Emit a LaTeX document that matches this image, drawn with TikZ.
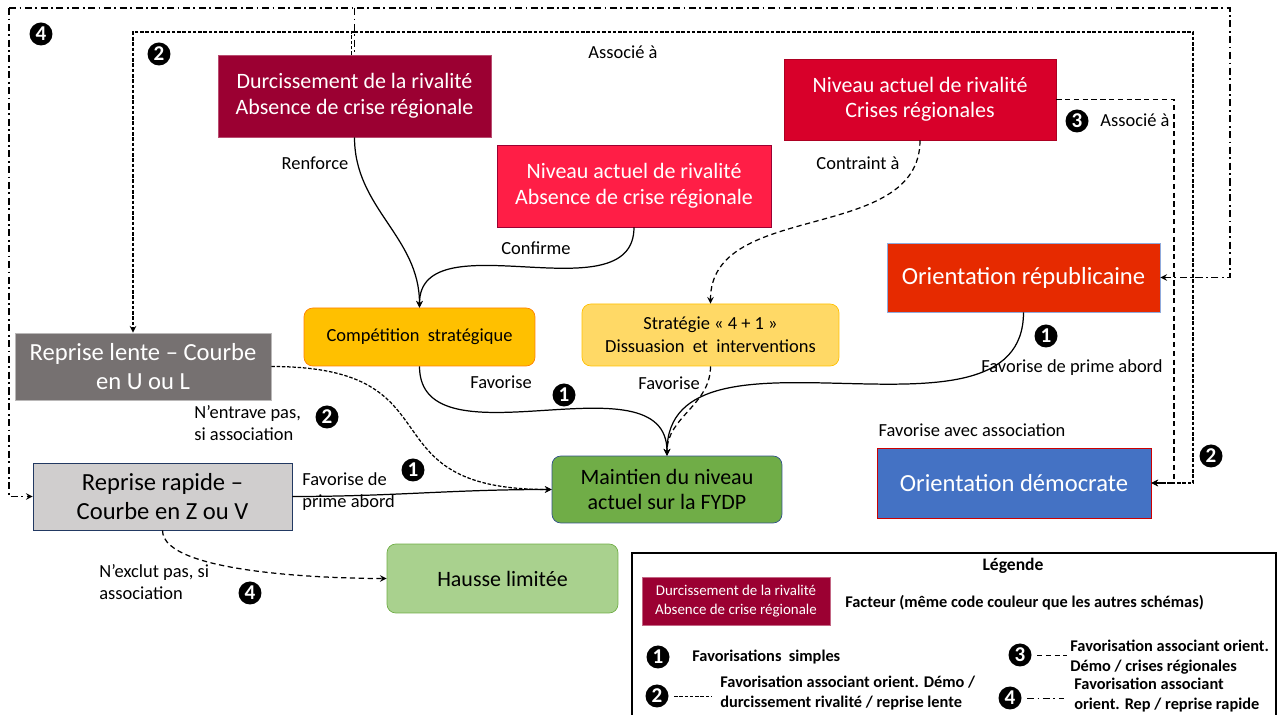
\documentclass[tikz,border=0pt]{standalone}
\usepackage{fontspec}
\setmainfont{Carlito}
\definecolor{durcred}{RGB}{155, 0, 50}
\definecolor{crisered}{RGB}{216, 0, 42}
\definecolor{absred}{RGB}{255, 30, 70}
\definecolor{repred}{RGB}{230, 42, 0}
\definecolor{demoblue}{RGB}{68, 114, 196}
\definecolor{compyellow}{RGB}{255, 192, 0}
\definecolor{stratyellow}{RGB}{255, 217, 102}
\definecolor{lentegray}{RGB}{118, 113, 113}
\definecolor{rapidegray}{RGB}{208, 206, 206}
\definecolor{maintgreen}{RGB}{112, 173, 71}
\definecolor{haussegreen}{RGB}{169, 209, 142}
\usetikzlibrary{
    arrows.meta,
    positioning,
    calc
}
\tikzstyle{factor} = [
    rectangle,
    text=white,
    inner sep=0pt,
    align=center,
    font=\fontsize{12.5}{14.5}\selectfont
]
\tikzstyle{outcome} = [
    rectangle,
    rounded corners=5pt,
    inner sep=0pt,
    align=center,
    text=black
]
\tikzstyle{badge} = [
    circle,
    fill=black,
    text=white,
    inner sep=0pt,
    minimum size=0.46cm,
    font=\fontsize{12}{12}\selectfont\bfseries
]
\tikzstyle{lbl} = [
    inner sep=0pt,
    align=left,
    font=\fontsize{10.5}{12.5}\selectfont
]
\tikzstyle{legtext} = [
    inner sep=0pt,
    align=left,
    anchor=west,
    font=\fontsize{9.3}{11}\selectfont\bfseries
]
\tikzstyle{arrow} = [
    ->,
    >=stealth,
    line width=0.7pt,
    draw=black
]
\tikzstyle{assoc2} = [dash pattern=on 2pt off 1pt]
\tikzstyle{assoc3} = [dash pattern=on 3pt off 2pt]
\tikzstyle{assoc4} = [dash pattern=on 4pt off 2pt on 1pt off 2pt]

\begin{document}
\begin{tikzpicture}[x=0.02cm, y=-0.02cm]
    \useasboundingbox (0,0) rectangle (1279,715);

    % Facteurs
    \node[factor, fill=durcred, draw=durcred!70, minimum width=5.46cm, minimum height=1.64cm] (durc) at (354.5,96) {Durcissement de la rivalité\\Absence de crise régionale};
    \node[factor, fill=crisered, draw=crisered!80!black, minimum width=5.44cm, minimum height=1.62cm] (crises) at (920,99.5) {Niveau actuel de rivalité\\Crises régionales};
    \node[factor, fill=absred, draw=durcred, minimum width=5.48cm, minimum height=1.64cm] (absence) at (634,186) {Niveau actuel de rivalité\\Absence de crise régionale};
    \node[factor, fill=repred, draw=demoblue!60, minimum width=5.46cm, minimum height=1.38cm, font=\fontsize{14}{16}\selectfont] (rep) at (1023.5,277.5) {Orientation républicaine};
    \node[factor, fill=demoblue, draw=red!80!black, minimum width=5.48cm, minimum height=1.4cm, font=\fontsize{14}{16}\selectfont] (demo) at (1014,483) {Orientation démocrate};
    \node[factor, fill=lentegray, draw=lentegray!50, minimum width=5.12cm, minimum height=1.34cm, font=\fontsize{14}{16.5}\selectfont] (lente) at (143,366.5) {Reprise lente -- Courbe\\en U ou L};
    \node[factor, fill=rapidegray, draw=demoblue!50!black, text=black, minimum width=5.18cm, minimum height=1.34cm, font=\fontsize{14}{16.5}\selectfont] (rapide) at (162.5,496.5) {Reprise rapide --\\Courbe en Z ou V};

    % Strategies et resultats
    \node[outcome, fill=compyellow, draw=orange, minimum width=4.62cm, minimum height=1.16cm, font=\fontsize{10.5}{12.5}\selectfont] (comp) at (419.5,337) {Compétition\ \ stratégique};
    \node[outcome, fill=stratyellow, draw=compyellow, minimum width=5.14cm, minimum height=1.24cm, font=\fontsize{10.5}{13}\selectfont] (strat) at (710.5,335) {Stratégie « 4 + 1 »\\Dissuasion\ \ et\ \ interventions};
    \node[outcome, fill=maintgreen, draw=demoblue!70!black, minimum width=4.6cm, minimum height=1.34cm, font=\fontsize{12.5}{14.5}\selectfont] (maint) at (667,489.5) {Maintien du niveau\\actuel sur la FYDP};
    \node[outcome, fill=haussegreen, draw=maintgreen, minimum width=4.62cm, minimum height=1.38cm, font=\fontsize{12.5}{14.5}\selectfont] (hausse) at (502.5,578.5) {Hausse limitée};

    % Favorisations simples
    \draw[arrow] (durc.south) to[out=-90, in=90] (comp.north);
    \draw[arrow] (absence.south) to[out=-90, in=90] (comp.north);
    \draw[arrow, assoc3] (crises.south) to[out=-90, in=90] (strat.north);
    \draw[arrow] (comp.south) to[out=-90, in=90] (maint.north);
    \draw[arrow, assoc3] (strat.south) to[out=-90, in=90] (maint.north);
    \draw[arrow] (rep.south) to[out=-90, in=90] (maint.north);
    \draw[arrow, assoc2] (lente.east) to[out=0, in=180, looseness=1.6] (maint.west);
    \draw[arrow] (rapide.east) to[out=0, in=180] (maint.west);
    \draw[arrow, assoc3] (rapide.south) to[out=-90, in=180, looseness=0.5] (hausse.west);

    % Associations
    \coordinate (l2w) at (133,32);
    \coordinate (l2e) at (1193,32);
    \coordinate (l3) at (1174,300);
    \coordinate (l4w) at (9,8);
    \coordinate (l4e) at (1230,8);
    \draw[line width=0.7pt, assoc2] ([xshift=-1.5pt]durc.north) -- ([xshift=-1.5pt]durc.north |- l2w);
    \draw[arrow, assoc2] (durc.north |- l2w) -- (l2w) -- (l2w |- lente.north);
    \draw[arrow, assoc2] (durc.north |- l2w) -- (l2e) |- (demo.east);
    \draw[arrow, assoc3] (crises.east) -| (l3) |- (demo.east);
    \draw[line width=0.7pt, assoc4] (l4w -| durc.north) -- (durc.north);
    \draw[arrow, assoc4] (l4w) -- (l4e) |- (rep.east);
    \draw[arrow, assoc4] (l4w) |- (rapide.west);

    % Etiquettes
    \node[lbl] (renf) at (315,163) {Renforce};
    \node[lbl] (conf) at (536,248) {Confirme};
    \node[lbl] (contr) at (858,163) {Contraint à};
    \node[lbl] (fav1) at (501,382) {Favorise};
    \node[lbl] (fav2) at (669,383) {Favorise};
    \node[lbl] (favrep) at (1072,368) {Favorise de prime abord};
    \node[lbl] (favdemo) at (972,430) {Favorise avec association};
    \node[lbl, anchor=west] (entr) at (194,423) {N’entrave pas,\\si association};
    \node[lbl, anchor=west] (favrap) at (302,492) {Favorise de\\prime abord};
    \node[lbl, anchor=west] (excl) at (99,582) {N’exclut pas, si\\association};
    \node[lbl] (assoc) at (623,52) {Associé à};
    \node[lbl] (assocr) at (1135,120) {Associé à};

    % Pastilles
    \node[badge] (b4top) at (41,34) {4};
    \node[badge] (b2top) at (159,54) {2};
    \node[badge] (b3) at (1077,121) {3};
    \node[badge] (b2right) at (1211,456) {2};
    \node[badge] (b1rep) at (1046,336) {1};
    \node[badge] (b1comp) at (564,395) {1};
    \node[badge] (b2lente) at (327,417) {2};
    \node[badge] (b1rap) at (413,470) {1};
    \node[badge] (b4rap) at (250,593) {4};

    % Legende
    \draw[line width=0.8pt] (632,716) |- (1276,553) -- (1276,716);
    \node[font=\fontsize{10}{12}\selectfont\bfseries] (legtitle) at (1013,566) {Légende};
    \node[factor, fill=durcred, draw=durcred!60, minimum width=3.76cm, minimum height=0.96cm, font=\fontsize{8.5}{10.5}\selectfont] (legfac) at (736,601) {Durcissement de la rivalité\\Absence de crise régionale};
    \node[legtext] (legfactxt) at (845,603) {Facteur (même code couleur que les autres schémas)};
    \node[badge] (lb1) at (658,657) {1};
    \node[legtext] (lt1) at (692,657) {Favorisations\ \ simples};
    \node[badge] (lb2) at (657,696) {2};
    \draw[assoc2] ([xshift=3pt]lb2.east) -- ++(37,0);
    \node[legtext] (lt2) at (720,693) {Favorisation associant orient. Démo /\\durcissement rivalité / reprise lente};
    \node[badge] (lb3) at (1020,655) {3};
    \draw[assoc3] ([xshift=3pt]lb3.east) -- ++(30,0);
    \node[legtext] (lt3) at (1070,657) {Favorisation associant orient.\\Démo / crises régionales};
    \node[badge] (lb4) at (1010,698) {4};
    \draw[assoc4] ([xshift=3pt]lb4.east) -- ++(37,0);
    \node[legtext] (lt4) at (1074,695) {Favorisation associant\\orient. Rep / reprise rapide};
\end{tikzpicture}
\end{document}
